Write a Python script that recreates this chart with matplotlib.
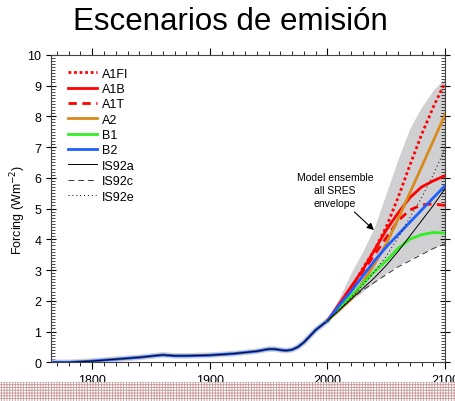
import numpy as np
import matplotlib
matplotlib.use("Agg")
import matplotlib.pyplot as plt
from matplotlib.patches import Rectangle
from matplotlib.ticker import MultipleLocator

plt.rcParams['font.family'] = ['Liberation Sans', 'DejaVu Sans']
plt.rcParams['hatch.linewidth'] = 0.6

# historical forcing (1765-2000)
hist_years = [1765, 1780, 1790, 1800, 1820, 1840, 1860, 1870, 1880, 1900, 1920, 1940,
              1950, 1955, 1960, 1965, 1970, 1975, 1980, 1985, 1990, 1995, 2000]
hist_vals = [0.0, 0.0, 0.02, 0.04, 0.10, 0.16, 0.24, 0.21, 0.21, 0.23, 0.28, 0.36,
             0.43, 0.43, 0.40, 0.38, 0.41, 0.50, 0.65, 0.85, 1.05, 1.20, 1.35]

# scenarios 2000-2100 every 10 years
scen_years = [2000, 2010, 2020, 2030, 2040, 2050, 2060, 2070, 2080, 2090, 2100]
a1fi = [1.35, 1.85, 2.40, 3.05, 3.65, 4.40, 5.35, 6.40, 7.40, 8.30, 9.10]
a1b = [1.35, 1.90, 2.45, 3.00, 3.65, 4.30, 4.85, 5.35, 5.70, 5.90, 6.07]
a1t = [1.35, 1.85, 2.40, 2.95, 3.50, 4.05, 4.60, 4.95, 5.12, 5.15, 5.10]
a2 = [1.35, 1.70, 2.05, 2.60, 3.20, 3.85, 4.65, 5.50, 6.35, 7.20, 8.05]
b1 = [1.35, 1.75, 2.15, 2.55, 2.95, 3.30, 3.70, 4.00, 4.15, 4.22, 4.20]
b2 = [1.35, 1.85, 2.30, 2.80, 3.30, 3.75, 4.15, 4.55, 4.95, 5.35, 5.74]
is92a = [1.35, 1.70, 2.05, 2.40, 2.75, 3.15, 3.60, 4.10, 4.60, 5.10, 5.65]
is92c = [1.35, 1.70, 2.05, 2.35, 2.60, 2.85, 3.10, 3.30, 3.50, 3.70, 3.85]
is92e = [1.35, 1.70, 2.10, 2.50, 2.95, 3.45, 4.05, 4.70, 5.35, 6.10, 6.95]
env_hi = [1.40, 2.10, 2.90, 3.60, 4.40, 5.50, 6.60, 7.60, 8.30, 8.85, 9.25]
env_lo = [1.30, 1.65, 2.00, 2.30, 2.60, 2.90, 3.15, 3.35, 3.55, 3.72, 3.85]

fig = plt.figure(figsize=(4.56, 4.02), dpi=100)
ax = fig.add_axes([0.112, 0.0963, 0.864, 0.765])

fig.text(0.505, 0.945, "Escenarios de emisión", ha='center', va='center', fontsize=22.5)

# bottom patterned strip
fig.patches.append(Rectangle((0, 0), 1, 0.047, transform=fig.transFigure,
                             facecolor='white', edgecolor='#c89a9a', hatch='++++++',
                             linewidth=0, zorder=0))

ax.fill_between(scen_years, env_lo, env_hi, color='#d0d0d2', lw=0, zorder=1)

ax.plot(hist_years, hist_vals, color='#d0d0d2', lw=4, zorder=2)
ax.plot(hist_years, hist_vals, color='#1f5fff', lw=2, zorder=3)
ax.plot(hist_years, hist_vals, color='black', lw=0.7, zorder=4)

ax.plot(scen_years, a1fi, color='red', ls=(0, (1, 1)), lw=2, label='A1FI', zorder=5)
ax.plot(scen_years, a1b, color='red', lw=2, label='A1B', zorder=5)
ax.plot(scen_years, a1t, color='red', ls=(0, (3, 2)), lw=2, label='A1T', zorder=5)
ax.plot(scen_years, a2, color='#d88a1c', lw=2, label='A2', zorder=5)
ax.plot(scen_years, b1, color='#33ee22', lw=2, label='B1', zorder=5)
ax.plot(scen_years, b2, color='#1f5fff', lw=2, label='B2', zorder=5)
ax.plot(scen_years, is92a, color='black', lw=0.7, label='IS92a', zorder=6)
ax.plot(scen_years, is92c, color='#333333', lw=0.7, ls=(0, (6, 4)), label='IS92c', zorder=6)
ax.plot(scen_years, is92e, color='black', lw=0.7, ls=(0, (1, 3)), label='IS92e', zorder=6)

ax.annotate("Model ensemble\nall SRES\nenvelope", xy=(2039.5, 4.3), xytext=(2006.5, 5.6),
            ha='center', va='center', fontsize=7.5, linespacing=1.4,
            arrowprops=dict(arrowstyle='-|>', color='black', lw=0.8,
                            mutation_scale=10, shrinkA=1, shrinkB=0,
                            relpos=(0.7, 0.0)))

ax.legend(loc='upper left', bbox_to_anchor=(0.015, 0.995), frameon=False, fontsize=9,
          handlelength=2.3, handletextpad=0.4, labelspacing=0.27)

ax.set_xlim(1765, 2100)
ax.set_ylim(0, 10)
ax.xaxis.set_major_locator(MultipleLocator(100))
ax.xaxis.set_minor_locator(MultipleLocator(10))
ax.yaxis.set_major_locator(MultipleLocator(1))
ax.yaxis.set_minor_locator(MultipleLocator(0.1))
ax.tick_params(axis='x', which='both', top=True, direction='out', labelsize=9)
ax.tick_params(axis='x', which='major', length=5, width=0.8)
ax.tick_params(axis='x', which='minor', length=3, width=0.6)
ax.tick_params(axis='y', which='both', right=True, labelsize=9)
ax.tick_params(axis='y', which='major', direction='inout', length=7, width=0.8)
ax.tick_params(axis='y', which='minor', direction='in', length=3, width=0.5)
for s in ax.spines.values():
    s.set_linewidth(0.8)
    s.set_color('#444444')

ax.set_ylabel("Forcing (Wm$^{-2}$)", fontsize=9)
ax.yaxis.set_label_coords(-0.058, 0.5)
ax.set_xlabel("Year", fontsize=9)
ax.xaxis.set_label_coords(0.5, -0.097)

fig.savefig("out.png", dpi=100)
